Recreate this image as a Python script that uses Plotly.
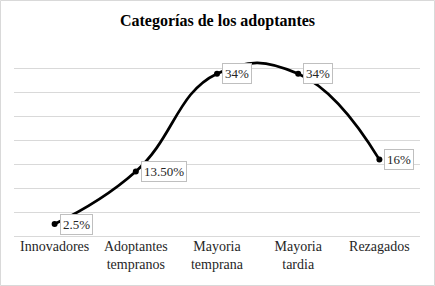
import plotly.graph_objects as go

categories = ["Innovadores", "Adoptantes<br>tempranos", "Mayoria<br>temprana", "Mayoria<br>tardia", "Rezagados"]
values = [2.5, 13.5, 34, 34, 16]
labels = ["2.5%", "13.50%", "34%", "34%", "16%"]

W, H = 435, 286
ml, mr, mt, mb = 14, 15, 45, 50
pw, ph = W - ml - mr, H - mt - mb
FONT = "Liberation Serif, Times New Roman, serif"

fig = go.Figure()
fig.add_trace(go.Scatter(
    x=list(range(len(categories))), y=values, mode="lines+markers",
    line=dict(color="black", width=2.75, shape="spline", smoothing=1.3),
    marker=dict(color="black", size=6),
    hoverinfo="skip", showlegend=False,
))
for i, (v, t) in enumerate(zip(values, labels)):
    fig.add_annotation(x=i, y=v, text=t, showarrow=False, xanchor="left", yanchor="middle",
                       xshift=5, bgcolor="white", bordercolor="#bfbfbf", borderwidth=1, borderpad=2,
                       font=dict(family=FONT, size=13, color="#262626"))

fig.add_shape(type="rect", xref="paper", yref="paper",
              x0=-(ml - 0.5) / pw, x1=1 + (mr - 0.5) / pw,
              y0=-(mb - 0.5) / ph, y1=1 + (mt - 0.5) / ph,
              line=dict(color="#d9d9d9", width=1), layer="below")

fig.update_layout(
    width=W, height=H, margin=dict(l=ml, r=mr, t=mt, b=mb),
    paper_bgcolor="white", plot_bgcolor="white",
    title=dict(text="<b>Categorías de los adoptantes</b>", x=0.5, xanchor="center", y=1 - 20 / H, yanchor="middle",
               font=dict(family=FONT, size=16, color="black")),
    xaxis=dict(tickmode="array", tickvals=list(range(len(categories))), ticktext=categories,
               range=[-0.5, 4.5], showgrid=False, zeroline=False, showline=False, ticks="",
               tickfont=dict(family=FONT, size=14, color="#262626")),
    yaxis=dict(range=[0, 40], dtick=5, showticklabels=False, showgrid=True, gridcolor="#d9d9d9",
               zeroline=True, zerolinecolor="#d9d9d9", zerolinewidth=1, showline=False, ticks=""),
)
fig.write_html("out.html", config={"displayModeBar": False},
               post_script="document.body.style.margin='0';")
